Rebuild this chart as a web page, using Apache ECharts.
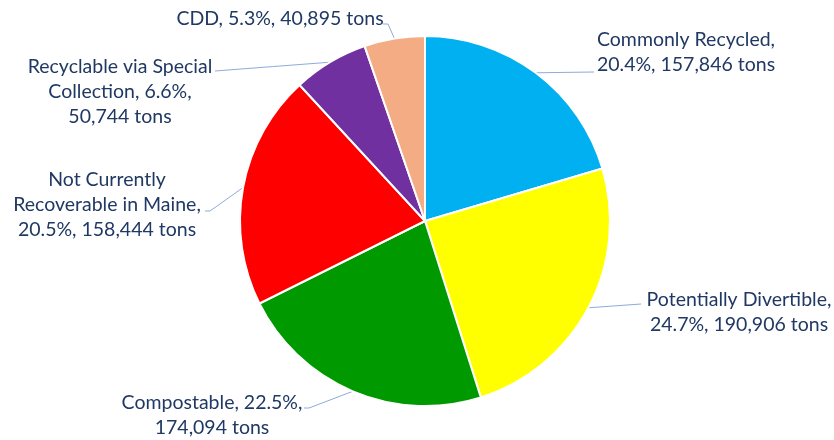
<!DOCTYPE html>
<html>
<head>
<meta charset="utf-8">
<script src="https://cdn.jsdelivr.net/npm/echarts@6/dist/echarts.min.js"></script>
<style>
  html, body { margin: 0; padding: 0; background: #fff; }
  #chart { width: 834px; height: 440px; }
</style>
</head>
<body>
<div id="chart"></div>
<script>
// Municipal solid waste composition (tons)
const categories = [
  'Commonly Recycled',
  'Potentially Divertible',
  'Compostable',
  'Not Currently Recoverable in Maine',
  'Recyclable via Special Collection',
  'CDD'
];
const tons = [157846, 190906, 174094, 158444, 50744, 40895];
const colors = ['#00B0F0', '#FFFF00', '#009A00', '#FF0000', '#7030A0', '#F4AC84'];

// Label placement: block centre, wrap width, and where the leader line meets the text
const labelSpots = [
  { x: 686, y: 52,  width: 205, end: [594, 72],  stub: 0 },
  { x: 739, y: 312, width: 205, end: [641, 304], stub: 0 },
  { x: 212, y: 415, width: 200, end: [304, 408], stub: 5 },
  { x: 107, y: 205, width: 200, end: [205, 211], stub: 5 },
  { x: 120, y: 92,  width: 195, end: [215, 71],  stub: 0 },
  { x: 280, y: 19,  width: 400, end: [383, 24],  stub: 5 }
];

const FONT_SIZE = 19.5;
const FONT_FAMILY = 'Lato';

// Greedy word wrap on spaces only, so numbers like 50,744 stay whole
const measureCtx = document.createElement('canvas').getContext('2d');
measureCtx.font = `${FONT_SIZE}px ${FONT_FAMILY}`;
function wrapWords(text, maxWidth) {
  const words = text.split(' ');
  const lines = [];
  let line = '';
  words.forEach(w => {
    const trial = line ? line + ' ' + w : w;
    if (line && measureCtx.measureText(trial).width > maxWidth) {
      lines.push(line);
      line = w;
    } else {
      line = trial;
    }
  });
  if (line) lines.push(line);
  return lines.join('\n');
}

const fmt = n => n.toLocaleString('en-US');

const chart = echarts.init(document.getElementById('chart'), null, { renderer: 'canvas' });

chart.setOption({
  animation: false,
  backgroundColor: '#ffffff',
  series: [{
    type: 'pie',
    center: [425, 221],
    radius: [0, 185],
    startAngle: 90,
    clockwise: true,
    percentPrecision: 1,
    avoidLabelOverlap: false,
    itemStyle: { borderColor: '#ffffff', borderWidth: 2 },
    label: {
      show: true,
      position: 'outside',
      color: '#203864',
      fontFamily: FONT_FAMILY,
      fontSize: FONT_SIZE,
      lineHeight: 25,
      align: 'center',
      formatter: p => wrapWords(
        `${p.name}, ${p.percent.toFixed(1)}%, ${fmt(p.value)} tons`,
        labelSpots[p.dataIndex].width
      )
    },
    labelLine: {
      show: true,
      length: 10,
      length2: 10,
      lineStyle: { color: '#8FAADC', width: 1 }
    },
    labelLayout: params => {
      const s = labelSpots[params.dataIndex];
      const p0 = params.labelLinePoints ? params.labelLinePoints[0] : s.end;
      const dir = s.end[0] < p0[0] ? 1 : -1;
      const bend = s.stub
        ? [s.end[0] + dir * s.stub, s.end[1]]
        : [(p0[0] + s.end[0]) / 2, (p0[1] + s.end[1]) / 2];
      return {
        x: s.x,
        y: s.y,
        align: 'center',
        verticalAlign: 'middle',
        labelLinePoints: [p0, bend, s.end]
      };
    },
    data: categories.map((name, i) => ({
      name,
      value: tons[i],
      itemStyle: { color: colors[i] }
    }))
  }]
});
</script>
</body>
</html>
